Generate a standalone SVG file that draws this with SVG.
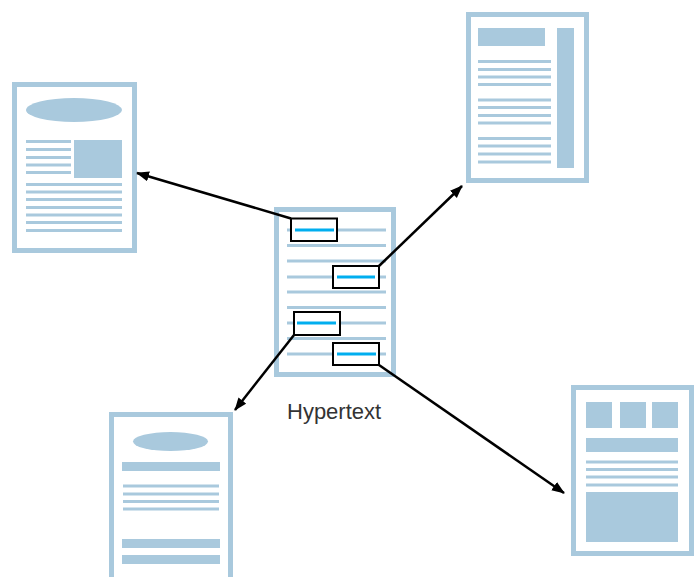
<svg xmlns="http://www.w3.org/2000/svg" width="700" height="577" viewBox="0 0 700 577">
  <style>
    .page { fill: #ffffff; stroke: #a9c9dd; stroke-width: 5; }
    .fill { fill: #a9c9dd; }
    .rule { stroke: #a9c9dd; stroke-width: 3; fill: none; }
    .anchor { fill: #ffffff; stroke: #000000; stroke-width: 2; }
    .link { stroke: #00aeef; stroke-width: 3; }
    .conn { stroke: #000000; stroke-width: 2.5; fill: none; marker-end: url(#arrow); }
    .label { font-family: "Liberation Sans", Arial, sans-serif; font-size: 22px; fill: #333333; }
  </style>
  <defs>
    <marker id="arrow" markerWidth="14" markerHeight="12" refX="12" refY="5" orient="auto" markerUnits="userSpaceOnUse">
      <path d="M0,0 L13,5 L0,10 Z" fill="#000000"/>
    </marker>
  </defs>

  <rect width="700" height="577" fill="#ffffff"/>

  <!-- page with banner ellipse and picture -->
  <g id="doc-left">
    <rect class="page" x="14.5" y="84.5" width="120" height="166"/>
    <ellipse class="fill" cx="74" cy="110" rx="48" ry="12"/>
    <rect class="fill" x="74" y="140" width="48" height="38"/>
    <g class="rule">
      <line x1="26" y1="141.5" x2="71" y2="141.5"/>
      <line x1="26" y1="149.5" x2="71" y2="149.5"/>
      <line x1="26" y1="157.5" x2="71" y2="157.5"/>
      <line x1="26" y1="165" x2="71" y2="165"/>
      <line x1="26" y1="172.5" x2="71" y2="172.5"/>
      <line x1="26" y1="184.5" x2="122" y2="184.5"/>
      <line x1="26" y1="192" x2="122" y2="192"/>
      <line x1="26" y1="199.5" x2="122" y2="199.5"/>
      <line x1="26" y1="207.5" x2="122" y2="207.5"/>
      <line x1="26" y1="215" x2="122" y2="215"/>
      <line x1="26" y1="222.5" x2="122" y2="222.5"/>
      <line x1="26" y1="230.5" x2="122" y2="230.5"/>
    </g>
  </g>

  <!-- page with header and sidebar -->
  <g id="doc-top-right">
    <rect class="page" x="468.5" y="14.5" width="118" height="166"/>
    <rect class="fill" x="478" y="28" width="67" height="18"/>
    <rect class="fill" x="557" y="28" width="17" height="140"/>
    <g class="rule">
      <line x1="478" y1="61.5" x2="551" y2="61.5"/>
      <line x1="478" y1="69.5" x2="551" y2="69.5"/>
      <line x1="478" y1="77" x2="551" y2="77"/>
      <line x1="478" y1="84.5" x2="551" y2="84.5"/>
      <line x1="478" y1="100" x2="551" y2="100"/>
      <line x1="478" y1="107.5" x2="551" y2="107.5"/>
      <line x1="478" y1="115.5" x2="551" y2="115.5"/>
      <line x1="478" y1="123" x2="551" y2="123"/>
      <line x1="478" y1="138.5" x2="551" y2="138.5"/>
      <line x1="478" y1="146" x2="551" y2="146"/>
      <line x1="478" y1="154" x2="551" y2="154"/>
      <line x1="478" y1="162" x2="551" y2="162"/>
    </g>
  </g>

  <!-- central hypertext page with link anchors -->
  <g id="doc-center">
    <rect class="page" x="276.5" y="209.5" width="117" height="165"/>
    <g class="rule">
      <line x1="287" y1="230" x2="386" y2="230"/>
      <line x1="287" y1="245.5" x2="386" y2="245.5"/>
      <line x1="287" y1="261" x2="386" y2="261"/>
      <line x1="287" y1="277" x2="386" y2="277"/>
      <line x1="287" y1="292" x2="386" y2="292"/>
      <line x1="287" y1="307.5" x2="386" y2="307.5"/>
      <line x1="287" y1="323" x2="386" y2="323"/>
      <line x1="287" y1="338.5" x2="386" y2="338.5"/>
      <line x1="287" y1="354" x2="386" y2="354"/>
    </g>
    <rect class="anchor" x="291" y="218.5" width="46" height="22.5"/>
    <line class="link" x1="295" y1="230" x2="334" y2="230"/>
    <rect class="anchor" x="333" y="266" width="46" height="22"/>
    <line class="link" x1="337" y1="277" x2="375" y2="277"/>
    <rect class="anchor" x="294" y="312" width="46" height="23"/>
    <line class="link" x1="297" y1="323" x2="336" y2="323"/>
    <rect class="anchor" x="333" y="343" width="46" height="22"/>
    <line class="link" x1="337" y1="354" x2="376" y2="354"/>
  </g>

  <!-- page with banner ellipse and bars -->
  <g id="doc-bottom-left">
    <path class="page" d="M111.5,580 V414.5 H230.5 V580"/>
    <ellipse class="fill" cx="170.5" cy="441.5" rx="37.5" ry="9.5"/>
    <rect class="fill" x="122" y="462" width="98" height="9"/>
    <g class="rule">
      <line x1="123" y1="486" x2="219" y2="486"/>
      <line x1="123" y1="494" x2="219" y2="494"/>
      <line x1="123" y1="501.5" x2="219" y2="501.5"/>
      <line x1="123" y1="509" x2="219" y2="509"/>
    </g>
    <rect class="fill" x="122" y="539" width="98" height="9"/>
    <rect class="fill" x="122" y="555" width="98" height="9"/>
  </g>

  <!-- page with thumbnails and image block -->
  <g id="doc-bottom-right">
    <rect class="page" x="573.5" y="387.5" width="118" height="166"/>
    <rect class="fill" x="586" y="402" width="26" height="26"/>
    <rect class="fill" x="620" y="402" width="26" height="26"/>
    <rect class="fill" x="652" y="402" width="26" height="26"/>
    <rect class="fill" x="586" y="438" width="92" height="14"/>
    <g class="rule">
      <line x1="586" y1="462" x2="678" y2="462"/>
      <line x1="586" y1="469.5" x2="678" y2="469.5"/>
      <line x1="586" y1="477" x2="678" y2="477"/>
      <line x1="586" y1="485" x2="678" y2="485"/>
    </g>
    <rect class="fill" x="586" y="492" width="92" height="50"/>
  </g>

  <g id="connectors">
    <line class="conn" x1="291" y1="218.5" x2="137" y2="173"/>
    <line class="conn" x1="379" y1="266" x2="462" y2="186"/>
    <line class="conn" x1="294" y1="335" x2="235" y2="410"/>
    <line class="conn" x1="379" y1="365" x2="564" y2="493"/>
  </g>

  <text class="label" x="287" y="419">Hypertext</text>
</svg>
